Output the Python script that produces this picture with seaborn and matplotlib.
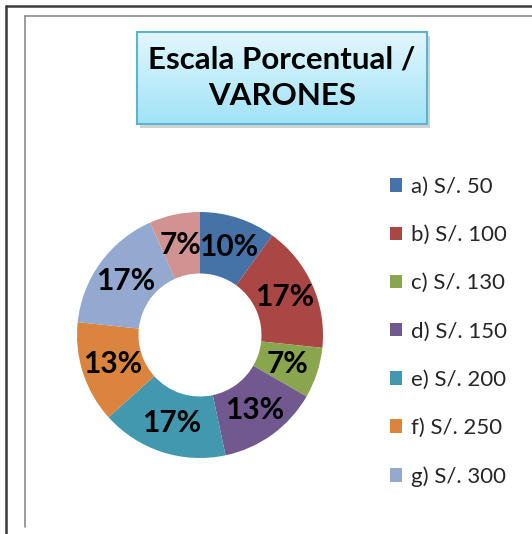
import numpy as np
import matplotlib
matplotlib.use('Agg')
import matplotlib.pyplot as plt
from matplotlib.lines import Line2D
import seaborn as sb

# data (counts read from the percentages, 30 men in total)
categories = ['a) S/. 50', 'b) S/. 100', 'c) S/. 130', 'd) S/. 150',
              'e) S/. 200', 'f) S/. 250', 'g) S/. 300', '']
counts = [3, 5, 2, 4, 5, 4, 5, 2]
title = 'Escala Porcentual /\nVARONES'

sb.set_theme(style='white')
plt.rcParams['font.family'] = ['Lato', 'DejaVu Sans']

colors = sb.color_palette(['#4573A7', '#AA4643', '#89A54E', '#71588F',
                           '#4198AF', '#DB843D', '#93A9CF', '#D19392'])

W, H = 532, 534
fig = plt.figure(figsize=(W / 100, H / 100), dpi=100)
fig.patch.set_facecolor('white')

def fx(px):
    return px / W

def fy(py):
    return 1 - py / H

# window borders
fig.add_artist(Line2D([fx(6), fx(6)], [fy(6), 0], color='#3a3a3a', lw=1.8))
fig.add_artist(Line2D([fx(6), 1], [fy(6), fy(6)], color='#3a3a3a', lw=1.8))
fig.add_artist(Line2D([fx(25), fx(25)], [fy(16), fy(527)], color='#8c8c8c', lw=1.2))
fig.add_artist(Line2D([fx(25), 1], [fy(16), fy(16)], color='#8c8c8c', lw=1.2))

# donut
cx, cy, r = 200, 335, 123
ax = fig.add_axes([fx(cx - r), fy(cy + r), 2 * r / W, 2 * r / H])
wedges, texts, autotexts = ax.pie(
    counts, colors=colors, startangle=90, counterclock=False, radius=1,
    wedgeprops=dict(width=0.5, edgecolor='none'),
    autopct=lambda p: f'{p:.0f}%', pctdistance=0.75,
    textprops=dict(fontsize=21.5, fontweight='bold', color='black'))
ax.set_xlim(-1, 1)
ax.set_ylim(-1, 1)
ax.axis('off')

# legend
fig.legend(wedges[:7], categories[:7], loc='upper left',
           bbox_to_anchor=(fx(381), fy(168)), frameon=False,
           fontsize=16, handlelength=0.55, handleheight=0.55,
           handletextpad=0.4, labelspacing=1.27, borderaxespad=0)

# title box with gradient + soft shadow
bx0, by0, bx1, by1 = 137, 32, 427, 124
shadow = fig.add_axes([fx(bx0 + 3), fy(by1 + 4), (bx1 - bx0) / W, (by1 - by0) / H])
shadow.set_facecolor('#d2d2d2')
shadow.set_xticks([])
shadow.set_yticks([])
for s in shadow.spines.values():
    s.set_visible(False)

tax = fig.add_axes([fx(bx0), fy(by1), (bx1 - bx0) / W, (by1 - by0) / H])
grad = np.linspace(0, 1, 100).reshape(-1, 1)
cmap = matplotlib.colors.LinearSegmentedColormap.from_list('box', ['#E2F7FD', '#A2E3F7'])
tax.imshow(grad, aspect='auto', cmap=cmap, extent=[0, 1, 0, 1], origin='upper')
tax.set_xticks([])
tax.set_yticks([])
for s in tax.spines.values():
    s.set_color('#5DB4CC')
    s.set_linewidth(1.5)
tax.text(0.5, 0.5, title, ha='center', va='center', fontsize=22.5,
         fontweight='bold', color='black', linespacing=1.38,
         transform=tax.transAxes)

fig.savefig('out.png', dpi=100)
